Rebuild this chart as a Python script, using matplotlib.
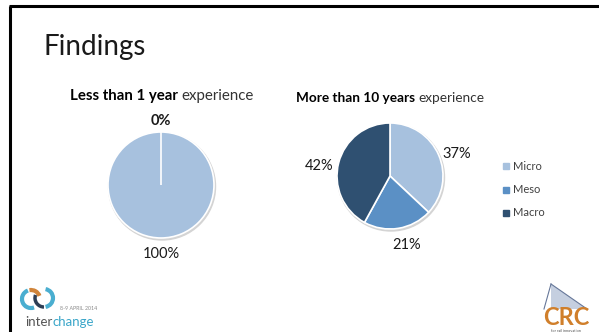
import matplotlib.pyplot as plt
from matplotlib.patches import Arc, Polygon, Rectangle, Circle

plt.rcParams['font.family'] = ['Lato', 'DejaVu Sans']

categories = ['Micro', 'Meso', 'Macro']
colors = ['#a7c1de', '#5b90c5', '#2f5071']

less_1yr = [100, 0]
more_10yr = [37, 21, 42]

W, H = 599, 332
fig = plt.figure(figsize=(W / 100, H / 100), dpi=100)
ax = fig.add_axes([0, 0, 1, 1])


def py(y):
    # pixel y (from top) to axes y
    return H - y


txt = dict(ha='center', va='center', fontsize=10.5, color='#1a1a1a')

# soft shadows under the pies
for cx, cy in [(161, 185), (390, 176)]:
    ax.add_patch(Circle((cx + 1, py(cy) - 1.5), 53.5, color='#d4d4d4', zorder=0))

# pie charts
wl, tl = ax.pie(less_1yr, colors=[colors[0], colors[1]], startangle=90, counterclock=False,
                center=(161, py(185)), radius=53,
                labels=[f'{v}%' for v in less_1yr], labeldistance=1.27,
                wedgeprops=dict(edgecolor='white', linewidth=1.2), textprops=txt)
tl[1].set_fontweight('bold')
tl[1].set_y(py(121))
tl[0].set_y(py(254))

wr, tr = ax.pie(more_10yr, colors=colors, startangle=90, counterclock=False,
                center=(390, py(176)), radius=53,
                labels=[f'{v}%' for v in more_10yr], labeldistance=1.33,
                wedgeprops=dict(edgecolor='white', linewidth=1.2), textprops=txt)
# best-fit nudges like PowerPoint
for t, (dx, dy) in zip(tr, [(2, -6), (6, 1), (-3, -8)]):
    x, y = t.get_position()
    t.set_position((x + dx, y + dy))

ax.set_xlim(0, W)
ax.set_ylim(0, H)
ax.set_aspect('auto')
ax.axis('off')

# slide border
ax.plot([9, W], [py(6), py(6)], color='black', lw=2.2, solid_capstyle='butt')
ax.plot([10, 10], [py(6), 0], color='black', lw=2.2, solid_capstyle='butt')

# title and subtitles
ax.text(43, py(47), 'Findings', fontsize=20, color='#1a1a1a', va='center', ha='left')


def subtitle(x, y, bold, rest, size):
    a = ax.text(x, py(y), bold, fontsize=size, fontweight='bold', va='center', ha='left')
    ax.annotate(rest, xy=(1, 0.5), xycoords=a, xytext=(2.5, 0), textcoords='offset points',
                fontsize=size, va='center', ha='left', color='#333333')


subtitle(70, 96, 'Less than 1 year', 'experience', 10.8)
subtitle(296, 98, 'More than 10 years', 'experience', 9.8)

# legend
for i, (c, col) in enumerate(zip(categories, colors)):
    yy = py(166 + i * 23.5)
    ax.add_patch(Rectangle((503, yy - 3), 6, 6, color=col))
    ax.text(513, yy, c, fontsize=8, va='center', ha='left', color='#404040')

# interchange logo
ax.add_patch(Arc((31, py(299)), 18, 18, theta1=110, theta2=290, color='#4aaed0', lw=3))
ax.add_patch(Arc((31, py(299)), 18, 18, theta1=20, theta2=100, color='#d0843a', lw=3))
ax.add_patch(Arc((44, py(298)), 18, 18, theta1=-80, theta2=80, color='#4aaed0', lw=3))
ax.add_patch(Arc((44, py(298)), 18, 18, theta1=160, theta2=270, color='#2d3e55', lw=2.5))
ax.text(60, py(308), '8-9 APRIL 2014', fontsize=3.8, color='#8a8a8a', va='center', ha='left')
ax.text(25, py(322), 'inter', fontsize=9.5, color='#555555', va='center', ha='left')
ax.annotate('change', xy=(1, 0.5), xycoords=ax.texts[-1], xytext=(0, 0), textcoords='offset points',
            fontsize=9.5, color='#3aa6c9', va='center', ha='left')

# CRC logo
ax.add_patch(Polygon([(551, py(284)), (587, py(309)), (551, py(309))], closed=True,
                     facecolor='#c5cfe0', edgecolor='none'))
ax.plot([551, 544], [py(284), py(309)], color='#667799', lw=0.8)
ax.plot([551, 587], [py(284), py(309)], color='#667799', lw=0.8)
ax.text(566, py(328.6), 'CRC', fontsize=17, fontweight='bold', color='#d07f2b', va='bottom', ha='center')
ax.text(566, py(330.6), 'for rail innovation', fontsize=2.8, color='#555555', va='center', ha='center')

fig.savefig('out.png', dpi=100)
